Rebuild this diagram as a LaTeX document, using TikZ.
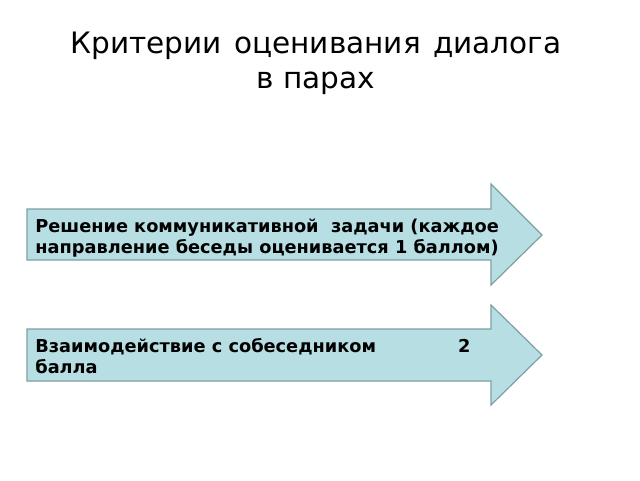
\documentclass[tikz,border=0pt]{standalone}
\usepackage{fontspec}
\setmainfont{DejaVu Sans}
\definecolor{arrowfill}{RGB}{183,222,226}
\definecolor{arrowline}{RGB}{125,160,165}

\tikzset{every picture/.style={line width=0.75pt}}
\tikzset{
  critarrow/.style={fill=arrowfill, draw=arrowline, line width=1.2pt, line join=miter},
  crittext/.style={anchor=west, align=left, inner sep=0pt, font=\fontsize{17.75}{21}\selectfont\bfseries}
}

\begin{document}
\begin{tikzpicture}[x=1pt, y=-1pt]
    \useasboundingbox (0,0) rectangle (640,480);
    \node[align=center, font=\fontsize{29.5}{35}\selectfont] (title) at (316,63) {Критерии\hspace{3pt} оценивания\hspace{3pt} диалога\\в парах};
    % first criterion
    \draw[critarrow] (27,209) -- (491,209) -- (491,184) -- (542,235) -- (491,285) -- (491,260) -- (27,260) -- cycle;
    \node[crittext] (task) at (35,238) {Решение коммуникативной\ \ задачи (каждое\\направление беседы оценивается 1 баллом)};
    % second criterion
    \draw[critarrow] (27,329) -- (491,329) -- (491,305) -- (542,355) -- (491,405) -- (491,381) -- (27,381) -- cycle;
    \node[crittext] (partner) at (35,356) {Взаимодействие с собеседником\hspace{82pt}2\\балла};
\end{tikzpicture}
\end{document}
